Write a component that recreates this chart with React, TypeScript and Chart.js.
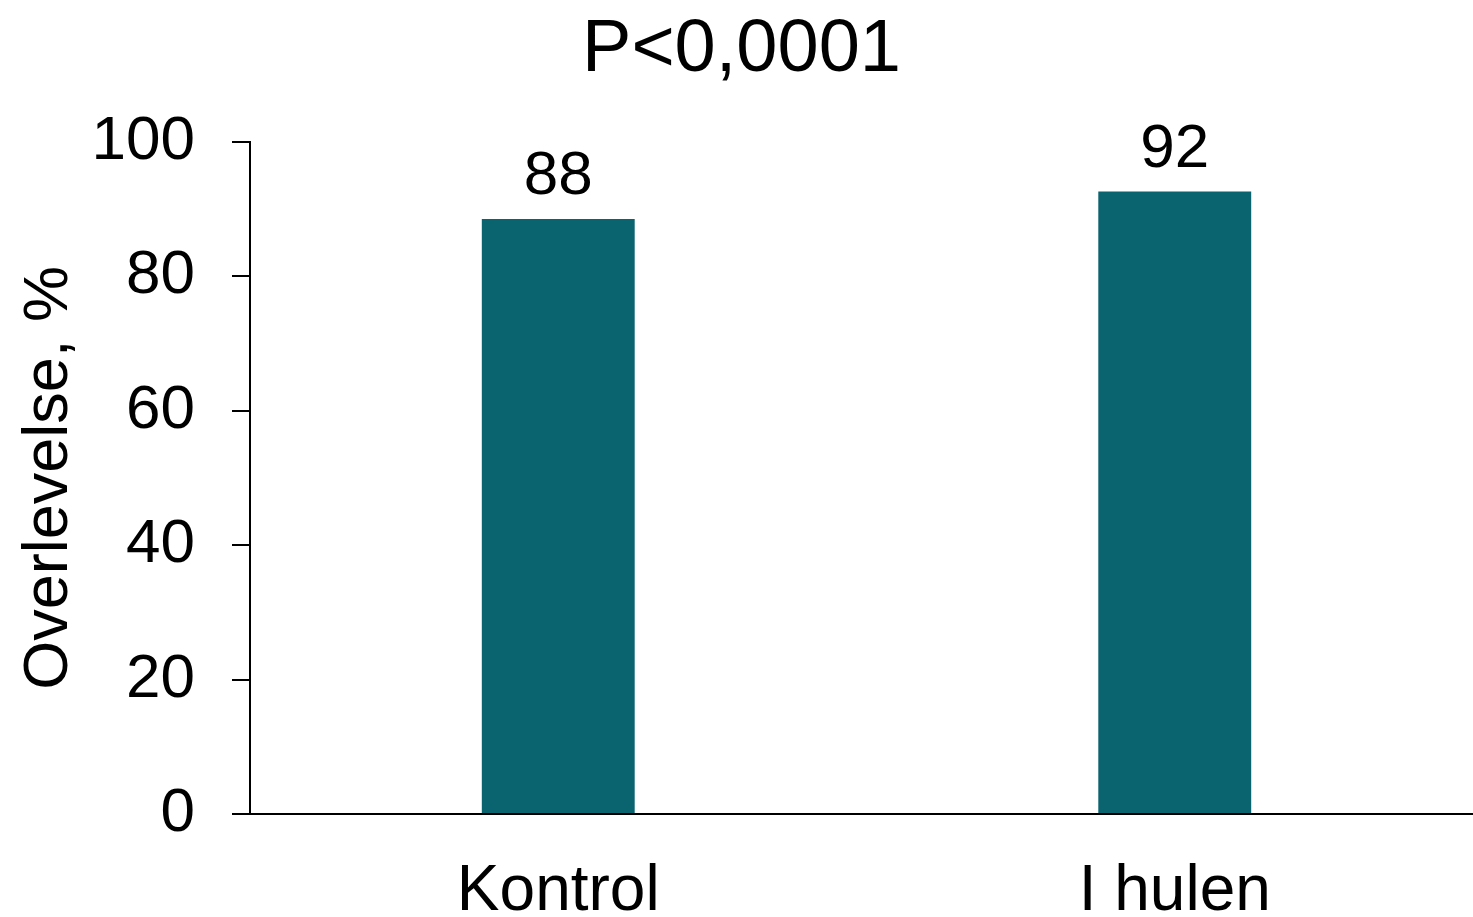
import React, { useEffect, useRef } from "react";
import { Chart, registerables } from "chart.js";

Chart.register(...registerables);

const categories: string[] = ["Kontrol", "I hulen"];
const survivalValues: number[] = [88.5, 92.6];
const valueLabels: string[] = ["88", "92"];
const yTicks: number[] = [0, 20, 40, 60, 80, 100];
const chartTitle = "P<0,0001";
const yAxisTitle = "Overlevelse, %";

const FONT = "'Liberation Sans', Arial, Helvetica, sans-serif";
const BAR_COLOR = "#0A6470";

const valueLabelPlugin = {
  id: "valueLabels",
  afterDatasetsDraw(chart: any) {
    const { ctx } = chart;
    const meta = chart.getDatasetMeta(0);
    ctx.save();
    ctx.font = `62px ${FONT}`;
    ctx.fillStyle = "#000000";
    ctx.textAlign = "center";
    ctx.textBaseline = "alphabetic";
    meta.data.forEach((bar: any, i: number) => {
      ctx.fillText(valueLabels[i], bar.x, bar.y - 25);
    });
    ctx.restore();
  },
};

export default function App() {
  const canvasRef = useRef<HTMLCanvasElement | null>(null);

  useEffect(() => {
    if (!canvasRef.current) return;
    const chart = new Chart(canvasRef.current, {
      type: "bar",
      data: {
        labels: categories,
        datasets: [
          {
            data: survivalValues,
            backgroundColor: BAR_COLOR,
            borderWidth: 0,
            categoryPercentage: 1,
            barPercentage: 0.248,
          },
        ],
      },
      options: {
        responsive: false,
        animation: false,
        devicePixelRatio: 1,
        layout: { padding: { left: 0, right: 1, top: 0, bottom: 0 } },
        plugins: {
          legend: { display: false },
          tooltip: { enabled: false },
          title: {
            display: true,
            text: chartTitle,
            color: "#000000",
            font: { family: FONT, size: 74, weight: "normal", lineHeight: 1.2 },
            padding: { top: 6, bottom: 47 },
          },
        },
        scales: {
          x: {
            type: "category",
            offset: true,
            grid: { display: false, drawTicks: false, drawOnChartArea: false },
            border: { display: true, color: "#000000", width: 2 },
            ticks: {
              color: "#000000",
              padding: 40,
              font: { family: FONT, size: 64, lineHeight: 1.2 },
              maxRotation: 0,
              minRotation: 0,
            },
            afterFit: (scale: any) => {
              scale.height = 103;
            },
          },
          y: {
            type: "linear",
            min: 0,
            max: 100,
            afterBuildTicks: (scale: any) => {
              scale.ticks = yTicks.map((v) => ({ value: v }));
            },
            grid: {
              display: true,
              drawOnChartArea: false,
              drawTicks: true,
              tickLength: 18,
              color: "#000000",
              lineWidth: 2,
            },
            border: { display: true, color: "#000000", width: 2 },
            ticks: {
              color: "#000000",
              padding: 37,
              font: { family: FONT, size: 62, lineHeight: 1.2 },
            },
            title: {
              display: true,
              text: yAxisTitle,
              color: "#000000",
              font: { family: FONT, size: 63, lineHeight: 1.2 },
              padding: { top: 12, bottom: 0 },
            },
            afterFit: (scale: any) => {
              scale.width = 250;
            },
          },
        },
      },
      plugins: [valueLabelPlugin],
    });
    return () => chart.destroy();
  }, []);

  return (
    <div
      style={{
        position: "absolute",
        left: 0,
        top: 0,
        width: 1473,
        height: 917,
        overflow: "hidden",
        background: "#ffffff",
      }}
    >
      <canvas
        ref={canvasRef}
        width={1484}
        height={917}
        style={{ display: "block", width: 1484, height: 917 }}
      />
    </div>
  );
}
